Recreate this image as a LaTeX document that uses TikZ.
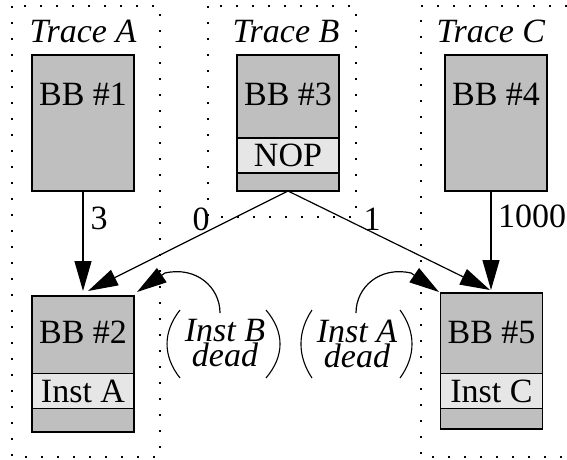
\documentclass[tikz,border=0pt]{standalone}
\usepackage{fontspec}
\setmainfont{Liberation Serif}
\usetikzlibrary{arrows.meta}
\definecolor{bbfill}{RGB}{191,191,191}
\definecolor{bandfill}{RGB}{230,230,230}
\begin{document}
\begin{tikzpicture}[x=1pt,y=-1pt,
  font=\fontsize{34}{25}\selectfont,
  traceframe/.style={line width=1.6pt, dash pattern=on 1.6pt off 14.4pt},
  bbbox/.style={draw, fill=bbfill, line width=1.1pt, inner sep=0pt, outer sep=0pt,
                minimum width=102pt, minimum height=136pt},
  band/.style={draw, fill=bandfill, line width=1.1pt, inner sep=0pt, outer sep=0pt,
               minimum width=102pt, minimum height=35pt},
  bbtext/.style={anchor=base, inner sep=0pt},
  note/.style={anchor=north, inner sep=0pt, align=center,
               font=\fontsize{34}{25}\selectfont\itshape},
  lbl/.style={inner sep=0pt},
  arr/.style={line width=1.2pt, -{Triangle[length=30pt,width=17pt]}},
  paren/.style={line width=1.1pt}
]
\useasboundingbox (0,0) rectangle (567,460);

% dotted trace frames
\draw[traceframe] (12,6) rectangle (160,457);
\draw[traceframe] (208,6) rectangle (356,217);
\draw[traceframe] (567,6) -- (421,6) -- (421,457) -- (567,457);

% trace titles
\node[bbtext] (tA) at (83,43) {\textit{Trace A}};
\node[bbtext] (tB) at (286,43) {\textit{Trace B}};
\node[bbtext] (tC) at (491,43) {\textit{Trace C}};

% basic blocks
\node[bbbox] (bb1) at (83,123) {};
\node[bbtext] (bb1t) at (83,105) {BB \#1};

\node[bbbox] (bb3) at (288,123) {};
\node[band] (nop) at (288,155.5) {NOP};
\node[bbtext] (bb3t) at (288,105) {BB \#3};

\node[bbbox] (bb4) at (496,123) {};
\node[bbtext] (bb4t) at (496,105) {BB \#4};

\node[bbbox] (bb2) at (83,364) {};
\node[band] (instA) at (83,391) {Inst A};
\node[bbtext] (bb2t) at (83,343) {BB \#2};

\node[bbbox] (bb5) at (491.5,361) {};
\node[band] (instC) at (491.5,391) {Inst C};
\node[bbtext] (bb5t) at (491.5,343) {BB \#5};

% arrow end points
\coordinate (in2a) at (83,291);
\coordinate (in2b) at (88,291);
\coordinate (in2c) at (137,292);
\coordinate (in5a) at (490,290);
\coordinate (out4) at (491,191);
\coordinate (in5b) at (491,290);
\coordinate (in5c) at (439,292);

% edges with counts
\draw[arr] (bb1.south) -- (in2a);
\draw[arr] (bb3.south) -- (in2b);
\draw[arr] (bb3.south) -- (in5a);
\draw[arr] (out4) -- (in5b);

\node[lbl] (c3) at (99,218) {3};
\node[lbl] (c0) at (201,219) {0};
\node[lbl] (c1) at (372,219) {1};
\node[lbl] (c1000) at (532,216) {1000};

% dead-instruction notes
\node[note] (deadB) at (225,319.5) {Inst B\\dead};
\node[note] (deadA) at (357,319.5) {Inst A\\dead};

\draw[paren] (180,310) .. controls (162.7,332) and (162.7,356) .. (180,378);
\draw[paren] (266,310) .. controls (284.7,332) and (284.7,356) .. (266,378);
\draw[paren] (312,310) .. controls (297.3,332) and (297.3,356) .. (312,378);
\draw[paren] (400,310) .. controls (416,332) and (416,356) .. (400,378);

\coordinate (fromB) at (220,313);
\coordinate (fromA) at (356,313);
\draw[arr] (fromB) .. controls (220,287) and (196,266) .. (165,273) -- (in2c);
\draw[arr] (fromA) .. controls (356,287) and (380,266) .. (411,273) -- (in5c);
\end{tikzpicture}
\end{document}
